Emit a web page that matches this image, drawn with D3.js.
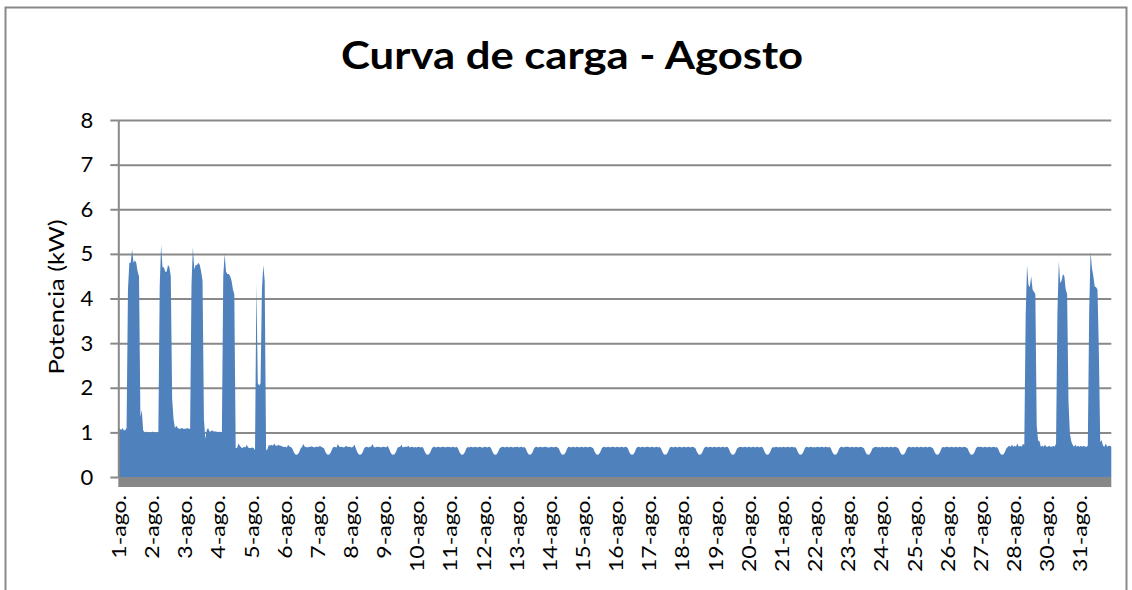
<!DOCTYPE html>
<html><head><meta charset="utf-8">
<script src="https://cdn.jsdelivr.net/npm/d3@7"></script>
<style>
body{margin:0;background:#fff;}
svg{display:block;}
text{font-family:Lato,"Open Sans",sans-serif;fill:#000;}
</style>
</head><body>
<svg id="c" width="1132" height="590"></svg>
<script>
const chartTitle = "Curva de carga - Agosto";
const yAxisTitle = "Potencia (kW)";
const dayLabels = ["1-ago.","2-ago.","3-ago.","4-ago.","5-ago.","6-ago.","7-ago.","8-ago.","9-ago.","10-ago.",
  "11-ago.","12-ago.","13-ago.","14-ago.","15-ago.","16-ago.","17-ago.","18-ago.","19-ago.","20-ago.",
  "21-ago.","22-ago.","23-ago.","24-ago.","25-ago.","26-ago.","27-ago.","28-ago.","30-ago.","31-ago."];
const yTicks = [0,1,2,3,4,5,6,7,8];

// hourly load (kW), one array of 24 values per labelled day
const day01 = [1.05,1.1,1.05,1.1,1.05,1.05,1.1,4.2,4.8,4.8,5.1,4.8,4.85,4.8,4.6,4.5,1.35,1.5,1.05,1.0,1.02,1.0,1.0,1.0];
const day02 = [1.0,1.02,1.0,1.0,1.0,1.0,4.3,5.2,4.7,4.7,4.6,4.6,4.75,4.7,4.5,1.75,1.3,1.1,1.15,1.1,1.08,1.08,1.1,1.08];
const day03 = [1.08,1.08,1.1,1.08,1.08,4.3,5.15,4.65,4.75,4.75,4.8,4.75,4.6,4.4,1.3,0.85,1.05,1.1,1.02,1.02,1.05,1.02,1.02,1.02];
const day04 = [1.0,1.02,1.0,1.0,4.5,5.0,4.6,4.55,4.55,4.5,4.4,4.2,4.1,0.65,0.65,0.75,0.7,0.66,0.65,0.68,0.66,0.72,0.66,0.65];
const day05 = [0.65,0.66,0.65,0.6,4.35,2.1,2.05,2.1,4.2,4.75,4.4,0.6,0.62,0.72,0.7,0.72,0.7,0.75,0.7,0.7,0.72,0.7,0.7,0.68];
const day06 = [0.67,0.68,0.66,0.72,0.68,0.67,0.64,0.56,0.51,0.5,0.51,0.56,0.64,0.67,0.74,0.68,0.67,0.66,0.68,0.67,0.69,0.67,0.66,0.68];
const day07 = [0.68,0.67,0.7,0.67,0.66,0.64,0.56,0.51,0.5,0.51,0.56,0.64,0.68,0.67,0.66,0.74,0.68,0.67,0.68,0.66,0.67,0.7,0.67,0.68];
const day08 = [0.67,0.66,0.68,0.73,0.64,0.56,0.51,0.5,0.51,0.56,0.64,0.67,0.68,0.66,0.67,0.68,0.74,0.67,0.66,0.68,0.67,0.68,0.66,0.67];
const day09 = [0.68,0.67,0.66,0.7,0.64,0.56,0.51,0.5,0.51,0.56,0.64,0.68,0.67,0.72,0.66,0.67,0.68,0.67,0.7,0.66,0.67,0.68,0.66,0.67];
const day10 = [0.66,0.68,0.67,0.66,0.68,0.64,0.56,0.51,0.5,0.51,0.56,0.64,0.67,0.68,0.66,0.67,0.68,0.66,0.67,0.68,0.67,0.66,0.68,0.67];
const day11 = [0.67,0.66,0.68,0.67,0.66,0.68,0.64,0.56,0.51,0.5,0.51,0.56,0.64,0.67,0.66,0.68,0.67,0.66,0.68,0.67,0.66,0.67,0.68,0.66];
const day12 = [0.66,0.67,0.68,0.66,0.67,0.68,0.64,0.56,0.51,0.5,0.51,0.56,0.64,0.66,0.68,0.67,0.66,0.68,0.67,0.66,0.68,0.67,0.66,0.67];
const day13 = [0.67,0.68,0.66,0.67,0.68,0.66,0.67,0.64,0.56,0.51,0.5,0.51,0.56,0.64,0.67,0.68,0.66,0.67,0.68,0.66,0.67,0.68,0.67,0.66];
const day14 = [0.66,0.67,0.68,0.66,0.67,0.68,0.66,0.64,0.56,0.51,0.5,0.51,0.56,0.64,0.68,0.67,0.66,0.68,0.67,0.66,0.68,0.67,0.66,0.68];
const day15 = [0.67,0.66,0.68,0.67,0.66,0.68,0.67,0.66,0.64,0.56,0.51,0.5,0.51,0.56,0.64,0.67,0.68,0.66,0.67,0.68,0.66,0.67,0.68,0.67];
const day16 = [0.66,0.68,0.67,0.66,0.68,0.67,0.66,0.68,0.67,0.64,0.56,0.51,0.5,0.51,0.56,0.64,0.67,0.68,0.66,0.67,0.68,0.66,0.67,0.68];
const day17 = [0.67,0.66,0.68,0.67,0.66,0.67,0.68,0.66,0.67,0.64,0.56,0.51,0.5,0.51,0.56,0.64,0.68,0.67,0.66,0.68,0.67,0.66,0.68,0.67];
const day18 = [0.66,0.67,0.68,0.66,0.67,0.68,0.66,0.67,0.68,0.66,0.64,0.56,0.51,0.5,0.51,0.56,0.64,0.67,0.68,0.66,0.67,0.68,0.66,0.67];
const day19 = [0.68,0.66,0.67,0.68,0.66,0.67,0.68,0.66,0.67,0.68,0.64,0.56,0.51,0.5,0.51,0.56,0.64,0.66,0.67,0.68,0.66,0.67,0.68,0.66];
const day20 = [0.67,0.68,0.66,0.67,0.68,0.66,0.67,0.68,0.66,0.67,0.68,0.64,0.56,0.51,0.5,0.51,0.56,0.64,0.67,0.66,0.68,0.67,0.66,0.68];
const day21 = [0.66,0.67,0.68,0.66,0.67,0.68,0.66,0.67,0.68,0.66,0.67,0.64,0.56,0.51,0.5,0.51,0.56,0.64,0.68,0.67,0.66,0.68,0.67,0.66];
const day22 = [0.67,0.66,0.68,0.67,0.66,0.68,0.67,0.66,0.68,0.67,0.66,0.68,0.64,0.56,0.51,0.5,0.51,0.56,0.64,0.67,0.68,0.66,0.67,0.68];
const day23 = [0.68,0.67,0.66,0.68,0.67,0.66,0.68,0.67,0.66,0.68,0.67,0.66,0.64,0.56,0.51,0.5,0.51,0.56,0.64,0.66,0.67,0.68,0.66,0.67];
const day24 = [0.66,0.68,0.67,0.66,0.68,0.67,0.66,0.68,0.67,0.66,0.68,0.67,0.66,0.64,0.56,0.51,0.5,0.51,0.56,0.64,0.67,0.68,0.66,0.67];
const day25 = [0.67,0.66,0.68,0.67,0.66,0.68,0.67,0.66,0.68,0.67,0.66,0.68,0.67,0.66,0.64,0.56,0.51,0.5,0.51,0.56,0.64,0.68,0.66,0.67];
const day26 = [0.68,0.67,0.66,0.68,0.67,0.66,0.68,0.67,0.66,0.68,0.67,0.66,0.68,0.67,0.66,0.64,0.56,0.51,0.5,0.51,0.56,0.64,0.67,0.68];
const day27 = [0.67,0.68,0.66,0.67,0.68,0.66,0.67,0.68,0.66,0.67,0.68,0.66,0.67,0.64,0.56,0.51,0.5,0.51,0.56,0.64,0.67,0.7,0.67,0.72];
const day28 = [0.68,0.7,0.68,0.75,0.68,0.7,0.68,0.74,0.72,3.6,4.75,4.3,4.25,4.5,4.2,4.15,4.1,1.15,0.82,0.8,0.68,0.7,0.68,0.72];
const day30 = [0.68,0.68,0.7,0.68,0.68,0.7,0.68,0.75,3.7,4.83,4.35,4.4,4.55,4.5,4.2,4.1,1.7,0.98,0.8,0.72,0.68,0.72,0.68,0.7];
const day31 = [0.68,0.7,0.68,0.7,0.68,0.68,0.7,3.75,5.05,4.68,4.5,4.27,4.25,4.2,2.8,0.78,0.83,0.7,0.68,0.75,0.68,0.7,0.7,0.68];

const dailySeries = [day01,day02,day03,day04,day05,day06,day07,day08,day09,day10,day11,day12,day13,day14,day15,
  day16,day17,day18,day19,day20,day21,day22,day23,day24,day25,day26,day27,day28,day30,day31];
const load = dailySeries.flat();
const perDay = 24;

const svg = d3.select("#c");
const L = 118.3, R = 1111.3, T = 120, B = 477;
const grey = "#898989";

// chart frame
svg.append("rect").attr("x",5.5).attr("y",7.5).attr("width",1121).attr("height",700)
  .attr("fill","none").attr("stroke",grey).attr("stroke-width",2);

const x = d3.scaleLinear().domain([0, load.length - 1]).range([L, R]);
const y = d3.scaleLinear().domain([0, 8]).range([B, T]);

// gridlines
const grid = svg.append("g").attr("transform",`translate(${L},0)`)
  .call(d3.axisLeft(y).tickValues(yTicks.slice(1)).tickSize(-(R - L)).tickFormat(""));
grid.select(".domain").remove();
grid.selectAll("line").attr("stroke",grey).attr("stroke-width",2);

// area
svg.append("path").datum(load)
  .attr("fill","#4F81BD")
  .attr("d", d3.area().x((d,i)=>x(i)).y0(y(0)).y1(d=>y(d)));

// floor
svg.append("rect").attr("x",L).attr("y",B).attr("width",R-L).attr("height",10).attr("fill","#878787");

// y axis
const gy = svg.append("g").attr("transform",`translate(${L},0)`)
  .call(d3.axisLeft(y).tickValues(yTicks).tickSize(8).tickSizeOuter(0).tickPadding(17));
gy.select(".domain").attr("stroke",grey).attr("stroke-width",2);
gy.selectAll("line").attr("stroke",grey).attr("stroke-width",2);
gy.selectAll("text").attr("font-size",22).attr("font-family","Lato").attr("fill","#000");

// x axis labels
const gx = svg.append("g").attr("transform",`translate(0,495)`)
  .call(d3.axisBottom(x).tickValues(dayLabels.map((d,i)=>i*perDay)).tickFormat((d,i)=>dayLabels[i]).tickSize(0));
gx.select(".domain").remove();
const xl = gx.selectAll("text")
  .attr("transform","rotate(-90)").attr("x",0).attr("y",0).attr("dy","0.36em")
  .attr("text-anchor","end").attr("font-size",20).attr("font-family","Lato").attr("fill","#000");
let refLen = 0;
xl.each(function(){ if (this.textContent === "10-ago.") refLen = this.getComputedTextLength(); });
const k = refLen ? 77 / refLen : 1;
xl.each(function(){
  const len = this.getComputedTextLength();
  d3.select(this).attr("textLength", len * k).attr("lengthAdjust","spacingAndGlyphs");
});

// y axis title
svg.append("text").attr("transform","translate(64,297) rotate(-90)")
  .attr("text-anchor","middle").attr("font-size",22)
  .attr("textLength",155).attr("lengthAdjust","spacingAndGlyphs")
  .text(yAxisTitle);

// title
svg.append("text").attr("x",572).attr("y",69).attr("text-anchor","middle")
  .attr("font-size",38).attr("font-weight","bold")
  .attr("textLength",462).attr("lengthAdjust","spacingAndGlyphs")
  .text(chartTitle);
</script>
</body></html>
